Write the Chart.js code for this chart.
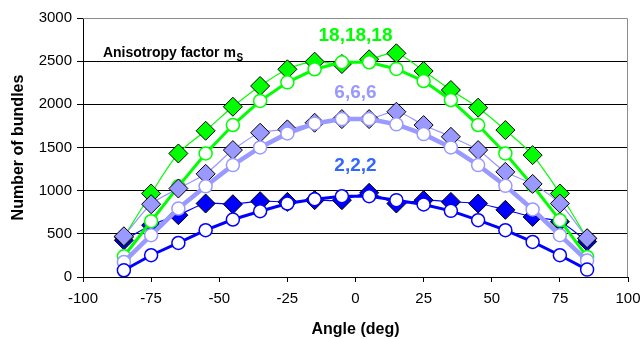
<!DOCTYPE html>
<html>
<head>
<meta charset="utf-8">
<script src="https://cdn.jsdelivr.net/npm/chart.js@4/dist/chart.umd.min.js"></script>
<style>
  html, body { margin: 0; padding: 0; background: #fff; }
  #wrap { width: 643px; height: 339px; }
</style>
</head>
<body>
<div id="wrap"><canvas id="c" width="643" height="339"></canvas></div>
<script>
// Angle of each bundle class (deg)
const angles = [-85, -75, -65, -55, -45, -35, -25, -15, -5, 5, 15, 25, 35, 45, 55, 65, 75, 85];

// Anisotropy 18,18,18
const diamonds18 = [462, 967, 1431, 1694, 1972, 2212, 2406, 2494, 2467, 2522, 2591, 2386, 2166, 1961, 1702, 1412, 967, 445];
const circles18  = [240, 646, 1050, 1431, 1760, 2040, 2255, 2406, 2487, 2487, 2410, 2270, 2050, 1760, 1431, 1060, 658, 232];

// Anisotropy 6,6,6
const diamonds6 = [472, 843, 1025, 1195, 1470, 1671, 1710, 1787, 1829, 1829, 1914, 1760, 1624, 1470, 1218, 1078, 851, 450];
const circles6  = [174, 484, 793, 1050, 1296, 1501, 1663, 1779, 1829, 1829, 1768, 1655, 1501, 1296, 1056, 782, 484, 190];

// Anisotropy 2,2,2
const diamonds2 = [426, 600, 716, 851, 843, 878, 870, 890, 890, 975, 851, 890, 870, 851, 778, 696, 640, 410];
const circles2  = [78, 252, 394, 542, 666, 762, 851, 901, 936, 936, 890, 840, 766, 658, 542, 406, 252, 86];

// Axis ticks
const xTicks = [-100, -75, -50, -25, 0, 25, 50, 75, 100];
const yTicks = [0, 500, 1000, 1500, 2000, 2500, 3000];

// Group captions
const groupNames = ['18,18,18', '6,6,6', '2,2,2'];

const GREEN = '#00ff00', LAV = '#9999ff', BLUE = '#0000ff';
const FONT = '"Liberation Sans", Arial, sans-serif';

const pts = vals => vals.map((v, i) => ({ x: angles[i], y: v }));

function diamondSet(label, vals, color, order) {
  return {
    label, data: pts(vals), order,
    borderColor: color, borderWidth: 1.2,
    pointStyle: 'rectRot', pointRadius: 9.5,
    pointBackgroundColor: color, pointBorderColor: '#000', pointBorderWidth: 1,
    tension: 0.3, fill: false
  };
}
function circleSet(label, vals, color, width, order) {
  return {
    label, data: pts(vals), order,
    borderColor: color, borderWidth: width,
    pointStyle: 'circle', pointRadius: 6.5,
    pointBackgroundColor: '#fff', pointBorderColor: color, pointBorderWidth: 1.5,
    tension: 0, fill: false
  };
}

const frame = {
  id: 'frame',
  beforeDatasetsDraw(chart) {
    const { ctx, chartArea: a } = chart;
    ctx.save();
    ctx.strokeStyle = '#8c8c8c';
    ctx.lineWidth = 1;
    ctx.beginPath();
    ctx.moveTo(a.left, a.top + 0.5);
    ctx.lineTo(a.right - 0.5, a.top + 0.5);
    ctx.lineTo(a.right - 0.5, a.bottom);
    ctx.stroke();
    ctx.restore();
  }
};

const captions = {
  id: 'captions',
  afterDatasetsDraw(chart) {
    const { ctx, scales: { x, y } } = chart;
    ctx.save();
    ctx.textAlign = 'center';
    ctx.textBaseline = 'middle';
    ctx.font = 'bold 19px ' + FONT;
    const colors = [GREEN, LAV, '#3366ff'];
    const anchors = [[0, 2790], [0, 2130], [0, 1290]];
    groupNames.forEach((t, i) => {
      ctx.fillStyle = colors[i];
      ctx.fillText(t, x.getPixelForValue(anchors[i][0]), y.getPixelForValue(anchors[i][1]));
    });
    // Heading with subscript
    ctx.textAlign = 'left';
    ctx.textBaseline = 'alphabetic';
    ctx.fillStyle = '#000';
    ctx.font = 'bold 14px ' + FONT;
    const hx = x.getPixelForValue(-92.7), hy = y.getPixelForValue(2545);
    const head = 'Anisotropy factor m';
    ctx.fillText(head, hx, hy);
    const w = ctx.measureText(head).width;
    ctx.font = 'bold 10px ' + FONT;
    ctx.fillText('S', hx + w + 0.5, hy + 4);
    ctx.restore();
  }
};

new Chart(document.getElementById('c'), {
  type: 'line',
  data: {
    datasets: [
      diamondSet('18,18,18 (a)', diamonds18, GREEN, 5),
      circleSet('18,18,18 (b)', circles18, GREEN, 3, 4),
      diamondSet('6,6,6 (a)', diamonds6, LAV, 3),
      circleSet('6,6,6 (b)', circles6, LAV, 4.5, 2),
      diamondSet('2,2,2 (a)', diamonds2, BLUE, 6),
      circleSet('2,2,2 (b)', circles2, BLUE, 3, 1)
    ]
  },
  options: {
    responsive: false,
    animation: false,
    devicePixelRatio: 1,
    layout: { padding: { left: 0, right: 4, top: 18, bottom: 0 } },
    plugins: { legend: { display: false }, tooltip: { enabled: false } },
    scales: {
      x: {
        type: 'linear', min: -100, max: 100,
        afterBuildTicks: s => { s.ticks = xTicks.map(v => ({ value: v })); },
        afterFit: s => { s.height = 62; s.paddingRight = 15; },
        grid: { drawOnChartArea: false, color: '#000', tickLength: 5, tickColor: '#000' },
        border: { color: '#000', width: 1 },
        ticks: { color: '#000', padding: 8, maxRotation: 0, callback: v => String(v),
                 font: { family: FONT, size: 15 } },
        title: { display: true, text: 'Angle (deg)', color: '#000', padding: { top: 3, bottom: 0 },
                 font: { family: FONT, size: 16, weight: 'bold' } }
      },
      y: {
        min: 0, max: 3000,
        afterBuildTicks: s => { s.ticks = yTicks.map(v => ({ value: v })); },
        afterFit: s => { s.width = 83; },
        grid: {
          color: c => (c.tick && c.tick.value === 3000) ? 'rgba(0,0,0,0)' : '#000',
          tickColor: '#000', tickLength: 6, lineWidth: 1
        },
        border: { color: '#000', width: 1 },
        ticks: { color: '#000', padding: 5, callback: v => String(v),
                 font: { family: FONT, size: 15 } },
        title: { display: true, text: 'Number of bundles', color: '#000', padding: { top: 9, bottom: 0 },
                 font: { family: FONT, size: 16, weight: 'bold' } }
      }
    }
  },
  plugins: [frame, captions]
});
</script>
</body>
</html>
